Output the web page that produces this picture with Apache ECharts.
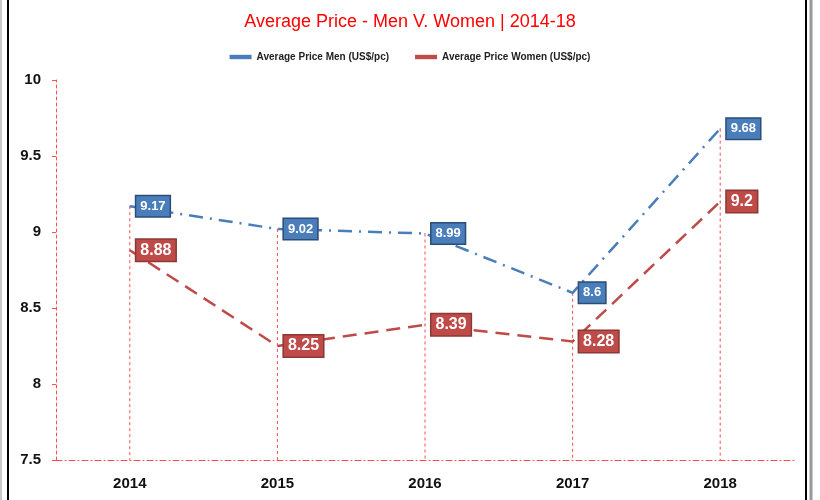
<!DOCTYPE html>
<html><head><meta charset="utf-8">
<script src="https://cdn.jsdelivr.net/npm/echarts@6/dist/echarts.min.js"></script>
<style>html,body{margin:0;padding:0;background:#fff;}#c{width:820px;height:500px;}</style>
</head><body><div id="c"></div>
<script>
const categories = ['2014','2015','2016','2017','2018'];
const menPrice = [9.17, 9.02, 8.99, 8.6, 9.68];
const womenPrice = [8.88, 8.25, 8.39, 8.28, 9.2];
const yTicks = {min: 7.5, max: 10, interval: 0.5};
const titleText = 'Average Price - Men V. Women | 2014-18';
const menName = 'Average Price Men (US$/pc)';
const womenName = 'Average Price Women (US$/pc)';

const dropData = categories.map((c, i) => [i, Math.max(menPrice[i], womenPrice[i])]);
const chart = echarts.init(document.getElementById('c'));
const fam = '"Liberation Sans Narrow", "Liberation Sans", Arial, sans-serif';
chart.setOption({
  animation: false,
  backgroundColor: '#fff',
  title: {text: titleText, left: 'center', top: 8,
    textStyle: {color: '#ff0000', fontSize: 18, fontWeight: 'normal', fontFamily: fam}},
  legend: {top: 47, left: 'center', itemWidth: 22, itemHeight: 9, itemGap: 26,
    textStyle: {fontSize: 10, fontWeight: 'bold', color: '#222', fontFamily: fam},
    data: [{name: menName, icon: 'path://M0,0h10v2h-10z'}, {name: womenName, icon: 'path://M0,0h10v2h-10z'}]},
  grid: {left: 56, right: 26, top: 80, bottom: 40},
  xAxis: {type: 'category', data: categories, boundaryGap: true,
    axisLine: {lineStyle: {color: '#ff4d4d', type: [6, 3, 1, 3], width: 1}},
    axisTick: {show: false},
    axisLabel: {fontSize: 15, fontWeight: 'bold', color: '#111', margin: 16, fontFamily: fam}},
  yAxis: {type: 'value', min: yTicks.min, max: yTicks.max, interval: yTicks.interval,
    axisLine: {show: true, lineStyle: {color: '#ff4d4d', type: [3, 3], width: 1}},
    axisTick: {show: true, length: 4, lineStyle: {color: '#ff4d4d'}},
    splitLine: {show: false},
    axisLabel: {fontSize: 15, fontWeight: 'bold', color: '#111', margin: 15, fontFamily: fam}},
  series: [
    {type: 'custom', name: 'drop', data: dropData, z: 1, silent: true,
      renderItem: function (params, api) {
        const top = api.coord([api.value(0), api.value(1)]);
        const bot = api.coord([api.value(0), yTicks.min]);
        return {type: 'line', shape: {x1: top[0], y1: top[1], x2: bot[0], y2: bot[1]},
          style: {stroke: '#ff4d4d', lineWidth: 1, lineDash: [3, 3]}};
      }},
    {type: 'line', name: menName, data: menPrice, z: 3,
      symbol: 'circle', symbolSize: 1, itemStyle: {color: '#4a7ebb'},
      lineStyle: {color: '#4a7ebb', width: 2.5, type: [14, 7, 2, 7]},
      label: {show: true, position: 'right', distance: 6, color: '#fff', fontWeight: 'bold', fontSize: 13,
        fontFamily: 'Liberation Sans, Arial, sans-serif',
        backgroundColor: '#4a7ebb', borderColor: '#2c4d75', borderWidth: 1.5, padding: [4, 4, 3, 4]}},
    {type: 'line', name: womenName, data: womenPrice, z: 3,
      symbol: 'circle', symbolSize: 1, itemStyle: {color: '#be4b48'},
      lineStyle: {color: '#be4b48', width: 2.5, type: [14, 8]},
      label: {show: true, position: 'right', distance: 6, color: '#fff', fontWeight: 'bold', fontSize: 16,
        fontFamily: 'Liberation Sans, Arial, sans-serif',
        backgroundColor: '#be4b48', borderColor: '#8c3836', borderWidth: 1.5, padding: [3, 4, 2, 4]}}
  ],
  graphic: [
    {type: 'line', shape: {x1: 1, y1: 0, x2: 1, y2: 500}, style: {stroke: '#c8c8c8', lineWidth: 2}, silent: true},
    {type: 'line', shape: {x1: 8, y1: 0, x2: 8, y2: 500}, style: {stroke: '#000', lineWidth: 2}, silent: true},
    {type: 'line', shape: {x1: 806, y1: 0, x2: 806, y2: 500}, style: {stroke: '#000', lineWidth: 2}, silent: true},
    {type: 'line', shape: {x1: 811, y1: 0, x2: 811, y2: 500}, style: {stroke: '#9a9a9a', lineWidth: 3}, silent: true}
  ]
});
</script></body></html>
